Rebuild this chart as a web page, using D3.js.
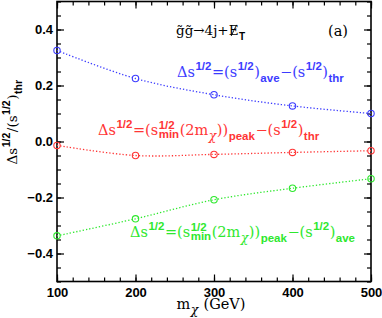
<!DOCTYPE html>
<html><head><meta charset="utf-8">
<script src="https://cdn.jsdelivr.net/npm/d3@7"></script>
<style>body{margin:0;background:#fff} text{white-space:pre}</style>
</head><body>
<svg id="c" width="382" height="318"></svg>
<script>
const masses=[100,200,300,400,500];
const aveMinusThr=[0.325,0.225,0.167,0.127,0.100];
const peakMinusThr=[-0.014,-0.050,-0.046,-0.039,-0.033];
const peakMinusAve=[-0.337,-0.276,-0.208,-0.167,-0.133];
const xTicks=[100,200,300,400,500];
const yTicks=[-0.4,-0.2,0.0,0.2,0.4];
const xMinor=d3.range(100,501,20);
const yMinor=d3.range(-0.5,0.501,0.05).map(v=>+v.toFixed(2));

const svg=d3.select('#c');
const L=57,R=371,T=1.5,B=281.5;
const x=d3.scaleLinear().domain([100,500]).range([L,R]);
const y=d3.scaleLinear().domain([-0.5,0.5]).range([B,T]);

function styleAxis(g){
  g.selectAll('.domain').remove();
  g.selectAll('line').attr('stroke','#000').attr('stroke-width',1.2);
  g.selectAll('text').attr('font-family','Liberation Sans').attr('font-weight','bold').attr('font-size',13).attr('fill','#000');
}
svg.append('g').attr('transform',`translate(0,${B})`).call(d3.axisBottom(x).tickValues(xTicks).tickSize(-7).tickPadding(6).tickFormat(d3.format('d'))).call(styleAxis);
svg.append('g').attr('transform',`translate(0,${B})`).call(d3.axisBottom(x).tickValues(xMinor).tickSize(-4).tickFormat('')).call(styleAxis);
svg.append('g').attr('transform',`translate(0,${T})`).call(d3.axisTop(x).tickValues(xTicks).tickSize(-7).tickFormat('')).call(styleAxis);
svg.append('g').attr('transform',`translate(0,${T})`).call(d3.axisTop(x).tickValues(xMinor).tickSize(-4).tickFormat('')).call(styleAxis);
svg.append('g').attr('transform',`translate(${L},0)`).call(d3.axisLeft(y).tickValues(yTicks).tickSize(-7).tickPadding(4).tickFormat(d3.format('.1f'))).call(styleAxis);
svg.append('g').attr('transform',`translate(${L},0)`).call(d3.axisLeft(y).tickValues(yMinor).tickSize(-4).tickFormat('')).call(styleAxis);
svg.append('g').attr('transform',`translate(${R},0)`).call(d3.axisRight(y).tickValues(yTicks).tickSize(-7).tickFormat('')).call(styleAxis);
svg.append('g').attr('transform',`translate(${R},0)`).call(d3.axisRight(y).tickValues(yMinor).tickSize(-4).tickFormat('')).call(styleAxis);
svg.append('rect').attr('x',L).attr('y',T).attr('width',R-L).attr('height',B-T).attr('fill','none').attr('stroke','#000').attr('stroke-width',1.6);

const series=[
  {vals:aveMinusThr,color:'#3c3cff'},
  {vals:peakMinusThr,color:'#ff3535'},
  {vals:peakMinusAve,color:'#2ee82e'}
];
const line=d3.line().x(d=>x(d[0])).y(d=>y(d[1])).curve(d3.curveCatmullRom);
series.forEach(s=>{
  const pts=masses.map((m,i)=>[m,s.vals[i]]);
  svg.append('path').attr('d',line(pts)).attr('fill','none').attr('stroke',s.color).attr('stroke-width',1.3).attr('stroke-dasharray','1.3,2');
  svg.selectAll(null).data(pts).enter().append('circle').attr('cx',d=>x(d[0])).attr('cy',d=>y(d[1])).attr('r',3.2).attr('fill','none').attr('stroke',s.color).attr('stroke-width',1.1);
});

const SERIF='DejaVu Serif', SANS='Liberation Sans';
function mathText(parent, parts, px, py, opts){
  const size=opts.size||14.5, small=opts.small||11.5;
  const g=parent.append('g').attr('fill',opts.color||'#000');
  let cx=0;
  function add(t,dx,dy,sz,fam,wt,style){
    const el=g.append('text').attr('x',cx+dx).attr('y',dy).attr('font-family',fam).attr('font-size',sz).attr('font-weight',wt||'normal').attr('font-style',style||'normal').text(t);
    return el.node().getComputedTextLength();
  }
  parts.forEach(p=>{
    if(p.t!==undefined){
      const w=add(p.t,0,0,size,SERIF);
      if(p.slash){ g.append('line').attr('x1',cx+w*0.25).attr('y1',1).attr('x2',cx+w*0.8).attr('y2',-size*0.75).attr('stroke',opts.color||'#000').attr('stroke-width',0.9); }
      cx+=w;
    } else {
      let w=0;
      const supDy=p.sub?-6.5:-7.5;
      const subDy=p.sup?3:4.5;
      if(p.sup) w=Math.max(w,add(p.sup,0.5,supDy,small,SANS,'bold'));
      if(p.sub) w=Math.max(w,add(p.sub,0.5,subDy,p.subSerif?small+1:small,p.subSerif?SERIF:SANS,p.subSerif?'normal':'bold',p.subSerif?'italic':'normal'));
      cx+=w+1;
    }
  });
  const tx=opts.anchor==='middle'?px-cx/2:opts.anchor==='end'?px-cx:px;
  if(opts.rotate){ g.attr('transform',`translate(${px},${py}) rotate(${opts.rotate}) translate(${-cx/2},0)`); }
  else g.attr('transform',`translate(${tx},${py})`);
  return g;
}

// title
mathText(svg,[{t:'g\u0303g\u0303\u21924j+'},{t:'E',slash:true},{sub:'T'}],176,35,{size:13.5,small:10});
mathText(svg,[{t:'(a)'}],328,36,{size:14.5});

const ds=[{t:'\u0394s'},{sup:'1/2'},{t:'=('}];
mathText(svg,[...ds,{t:'s'},{sup:'1/2'},{t:')'},{sub:'ave'},{t:'\u2212(s'},{sup:'1/2'},{t:')'},{sub:'thr'}],177,77,{color:'#3c3cff'});
mathText(svg,[...ds,{t:'s'},{sup:'1/2',sub:'min'},{t:'(2m'},{sub:'\u03c7',subSerif:true},{t:'))'},{sub:'peak'},{t:'\u2212(s'},{sup:'1/2'},{t:')'},{sub:'thr'}],98,135,{color:'#ff3535'});
mathText(svg,[...ds,{t:'s'},{sup:'1/2',sub:'min'},{t:'(2m'},{sub:'\u03c7',subSerif:true},{t:'))'},{sub:'peak'},{t:'\u2212(s'},{sup:'1/2'},{t:')'},{sub:'ave'}],130,237,{color:'#2ee82e'});

// axis titles
mathText(svg,[{t:'m'},{sub:'\u03c7',subSerif:true},{t:'\u00a0(GeV)'}],211,309,{anchor:'middle'});
mathText(svg,[{t:'\u0394s'},{sup:'1/2'},{t:'/(s'},{sup:'1/2'},{t:')'},{sub:'thr'}],17,122,{rotate:-90,size:13.5,small:10.5});
</script>
</body></html>
